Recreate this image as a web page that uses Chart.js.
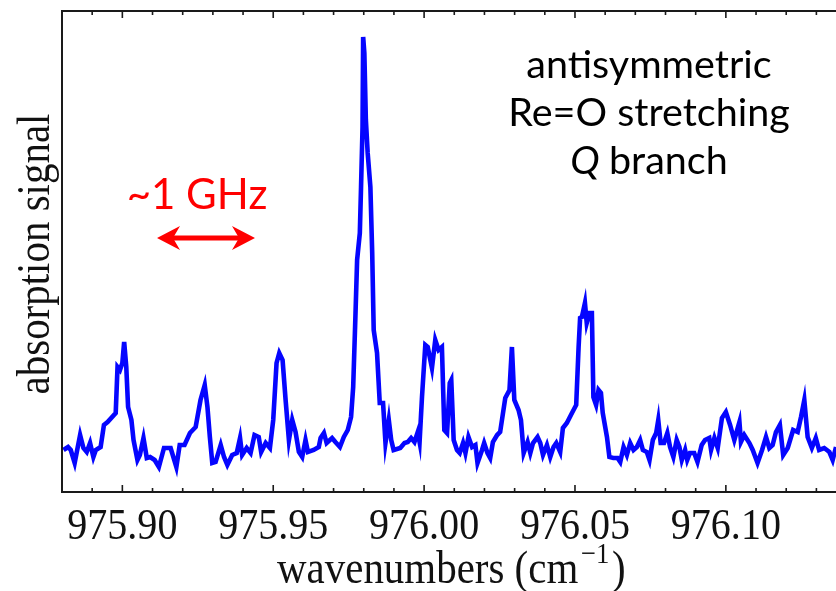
<!DOCTYPE html>
<html>
<head>
<meta charset="utf-8">
<script src="https://cdn.jsdelivr.net/npm/chart.js@4"></script>
<style>
  html, body { margin: 0; padding: 0; background: #ffffff; }
  #wrap { width: 836px; height: 591px; }
</style>
</head>
<body>
<div id="wrap"><canvas id="c" width="836" height="591"></canvas></div>
<script>
// wavenumber (cm^-1) of each sample
const wavenumber = [
  975.8805, 975.8820, 975.8829, 975.8842, 975.8860, 975.8871, 975.8882, 975.8893, 975.8904, 975.8912,
  975.8928, 975.8939, 975.8951, 975.8978, 975.8984, 975.8992, 975.9000, 975.9006, 975.9013, 975.9019,
  975.9030, 975.9037, 975.9050, 975.9058, 975.9070, 975.9081, 975.9092, 975.9107, 975.9121, 975.9138,
  975.9160, 975.9179, 975.9190, 975.9206, 975.9224,
  975.9243, 975.9259, 975.9273, 975.9282, 975.9290, 975.9298, 975.9309, 975.9326, 975.9337, 975.9348,
  975.9364, 975.9379, 975.9390, 975.9397, 975.9412, 975.9425, 975.9438, 975.9452, 975.9460, 975.9475,
  975.9489, 975.9500, 975.9511, 975.9520, 975.9531, 975.9541, 975.9552, 975.9563, 975.9574, 975.9585,
  975.9596, 975.9607, 975.9615, 975.9634, 975.9651,
  975.9657, 975.9668, 975.9677, 975.9695, 975.9706, 975.9721, 975.9734, 975.9747, 975.9758, 975.9765,
  975.9772, 975.9778, 975.9787, 975.9791, 975.9796, 975.9798, 975.9802, 975.9807, 975.9813, 975.9822,
  975.9828, 975.9833, 975.9844, 975.9853, 975.9864, 975.9872, 975.9883, 975.9891, 975.9899, 975.9921,
  975.9935, 975.9946, 975.9957, 975.9968, 975.9979, 975.9985, 975.9993, 976.0004, 976.0012, 976.0026,
  976.0037, 976.0048, 976.0059, 976.0067, 976.0076, 976.0085,
  976.0090, 976.0098, 976.0109, 976.0118, 976.0129, 976.0137, 976.0147, 976.0159, 976.0170, 976.0177,
  976.0192, 976.0199, 976.0210, 976.0219, 976.0228, 976.0242, 976.0252, 976.0269, 976.0283, 976.0291,
  976.0299, 976.0313, 976.0321, 976.0330, 976.0343, 976.0352, 976.0361, 976.0376, 976.0385, 976.0394,
  976.0407, 976.0418, 976.0429, 976.0438, 976.0451, 976.0460, 976.0473, 976.0490, 976.0504, 976.0512,
  976.0517,
  976.0523, 976.0533, 976.0539, 976.0548, 976.0556, 976.0561, 976.0570, 976.0578, 976.0586, 976.0592,
  976.0606, 976.0614, 976.0627, 976.0641, 976.0650, 976.0661, 976.0672, 976.0683, 976.0694, 976.0705,
  976.0716, 976.0725, 976.0738, 976.0747, 976.0758, 976.0769, 976.0776, 976.0784, 976.0795, 976.0806,
  976.0815, 976.0826, 976.0837, 976.0846, 976.0854, 976.0865, 976.0872, 976.0881, 976.0895, 976.0906,
  976.0920, 976.0931,
  976.0945, 976.0951, 976.0962, 976.0973, 976.0987, 976.1000, 976.1014, 976.1028, 976.1045, 976.1050,
  976.1061, 976.1078, 976.1089, 976.1105, 976.1120, 976.1133, 976.1144, 976.1155, 976.1166, 976.1179,
  976.1190, 976.1205, 976.1223, 976.1238, 976.1249, 976.1260, 976.1271, 976.1285, 976.1298, 976.1309,
  976.1326, 976.1343, 976.1354, 976.1365
];

// absorption signal (arbitrary units)
const signal = [
  42, 45, 42, 29, 57, 44, 40, 49, 35, 42,
  45, 67, 70, 79, 125, 122, 129, 150, 125, 85,
  72, 52, 32, 37, 54, 34, 35, 32, 25, 44,
  44, 25, 47, 47, 59,
  65, 92, 107, 85, 55, 29, 30, 47, 35, 27,
  37, 39, 54, 37, 44, 39, 57, 55, 40, 49,
  44, 72, 129, 139, 132, 92, 52, 72, 60, 40,
  35, 52, 40, 42, 45,
  54, 59, 49, 54, 50, 45, 55, 62, 75, 105,
  172, 232, 259, 305, 365, 455, 439, 372, 339, 305,
  239, 162, 139, 89, 89, 49, 72, 52, 42, 44,
  49, 50, 54, 50, 60, 50, 95, 147, 145, 124,
  152, 142, 145, 62, 59, 109,
  112, 52, 42, 39, 49, 39, 55, 45, 47, 29,
  42, 49, 39, 34, 50, 57, 60, 94, 102, 145,
  92, 82, 72, 39, 50, 39, 49, 55, 49, 37,
  47, 35, 45, 49, 40, 64, 69, 79, 87, 145,
  174,
  175, 189, 169, 179, 179, 95, 87, 102, 99, 79,
  55, 35, 34, 34, 30, 45, 37, 49, 42, 45,
  52, 42, 40, 32, 52, 59, 72, 49, 49, 59,
  45, 35, 52, 45, 32, 42, 32, 39, 39, 30,
  47, 52,
  54, 42, 54, 44, 74, 80, 67, 52, 70, 50,
  57, 49, 42, 29, 42, 55, 44, 47, 60, 67,
  37, 44, 62, 60, 75, 92, 55, 44, 54, 42,
  44, 40, 32, 45
];

const xMin = 975.88, xMax = 976.1365;
const yMin = 0, yMax = 481;
const xTickValues = [975.90, 975.95, 976.00, 976.05, 976.10];
const xTickLabels = ['975.90', '975.95', '976.00', '976.05', '976.10'];
const xMinorStep = 0.01;
const xTitle = 'wavenumbers (cm';
const xTitleSup = '\u22121';
const yTitle = 'absorption signal';
const noteLines = ['antisymmetric', 'Re=O stretching', 'branch'];
const noteItalic = 'Q';
const widthNote = '~1 GHz';

const SERIF = '"Liberation Serif", "DejaVu Serif", serif';
const SANS = 'Lato, "Open Sans", sans-serif';

function squeezeText(ctx, text, x, y, sx, align) {
  ctx.save();
  ctx.translate(x, y);
  ctx.scale(sx, 1);
  ctx.textAlign = align;
  ctx.fillText(text, 0, 0);
  ctx.restore();
}

const framePlugin = {
  id: 'frame',
  afterDatasetsDraw(chart) {
    const ctx = chart.ctx;
    const xs = chart.scales.x;
    const a = chart.chartArea;
    ctx.save();
    // frame
    ctx.strokeStyle = '#1a1a1a';
    ctx.lineWidth = 2;
    ctx.beginPath();
    ctx.moveTo(a.right + 2, a.top);
    ctx.lineTo(a.left, a.top);
    ctx.lineTo(a.left, a.bottom);
    ctx.lineTo(a.right + 2, a.bottom);
    ctx.stroke();
    // ticks (inward, bottom and top)
    ctx.lineWidth = 1.6;
    const n = Math.round((xMax - xMin) / xMinorStep);
    for (let i = 1; i <= n; i++) {
      const v = xMin + i * xMinorStep;
      const px = xs.getPixelForValue(v);
      const major = xTickValues.some(t => Math.abs(t - v) < 1e-6);
      const len = major ? 7 : 4;
      ctx.beginPath();
      ctx.moveTo(px, a.bottom);
      ctx.lineTo(px, a.bottom - len);
      ctx.moveTo(px, a.top);
      ctx.lineTo(px, a.top + len);
      ctx.stroke();
    }
    // tick labels
    ctx.fillStyle = '#111';
    ctx.font = '45px ' + SERIF;
    ctx.textBaseline = 'alphabetic';
    xTickValues.forEach((v, i) => {
      squeezeText(ctx, xTickLabels[i], xs.getPixelForValue(v), 539, 0.89, 'center');
    });
    // x title
    ctx.font = '46px ' + SERIF;
    ctx.save();
    ctx.translate(277, 583);
    ctx.scale(0.89, 1);
    ctx.textAlign = 'left';
    ctx.fillText(xTitle, 0, 0);
    const w1 = ctx.measureText(xTitle).width;
    ctx.font = '30px ' + SERIF;
    ctx.fillText(xTitleSup, w1 + 3, -20);
    const w2 = ctx.measureText(xTitleSup).width;
    ctx.font = '46px ' + SERIF;
    ctx.fillText(')', w1 + w2 + 6, 0);
    ctx.restore();
    // y title
    ctx.save();
    ctx.translate(49, 254);
    ctx.rotate(-Math.PI / 2);
    ctx.scale(0.89, 1);
    ctx.textAlign = 'center';
    ctx.font = '46px ' + SERIF;
    ctx.fillText(yTitle, 0, 0);
    ctx.restore();
    // annotation
    const fs = 39.5;
    ctx.fillStyle = '#000';
    ctx.textAlign = 'center';
    ctx.font = fs + 'px ' + SANS;
    ctx.fillText(noteLines[0], 649, 78);
    ctx.fillText(noteLines[1], 649, 126);
    ctx.font = 'italic ' + fs + 'px ' + SANS;
    const qW = ctx.measureText(noteItalic + ' ').width;
    ctx.font = fs + 'px ' + SANS;
    const bW = ctx.measureText(noteLines[2]).width;
    const startX = 649 - (qW + bW) / 2;
    ctx.textAlign = 'left';
    ctx.font = 'italic ' + fs + 'px ' + SANS;
    ctx.fillText(noteItalic, startX, 174);
    ctx.font = fs + 'px ' + SANS;
    ctx.fillText(noteLines[2], startX + qW, 174);
    // ~1 GHz
    ctx.fillStyle = '#ff0000';
    ctx.textAlign = 'center';
    ctx.font = '42px ' + SANS;
    ctx.fillText(widthNote, 197, 209);
    // double arrow
    const ax1 = 157, ax2 = 255, ay = 238;
    ctx.strokeStyle = '#ff0000';
    ctx.lineWidth = 5;
    ctx.beginPath();
    ctx.moveTo(ax1 + 12, ay);
    ctx.lineTo(ax2 - 12, ay);
    ctx.stroke();
    ctx.beginPath();
    ctx.moveTo(ax1, ay);
    ctx.lineTo(ax1 + 23, ay - 12);
    ctx.lineTo(ax1 + 16, ay);
    ctx.lineTo(ax1 + 23, ay + 12);
    ctx.closePath();
    ctx.moveTo(ax2, ay);
    ctx.lineTo(ax2 - 23, ay - 12);
    ctx.lineTo(ax2 - 16, ay);
    ctx.lineTo(ax2 - 23, ay + 12);
    ctx.closePath();
    ctx.fillStyle = '#ff0000';
    ctx.fill();
    ctx.restore();
  }
};

new Chart(document.getElementById('c'), {
  type: 'line',
  data: {
    datasets: [{
      data: wavenumber.map((x, i) => ({ x: x, y: signal[i] })),
      borderColor: '#0505ff',
      borderWidth: 4.6,
      pointRadius: 0,
      tension: 0,
      fill: false
    }]
  },
  options: {
    responsive: false,
    devicePixelRatio: 1,
    animation: false,
    layout: { padding: { left: 62, top: 11, right: 0, bottom: 99 } },
    plugins: { legend: { display: false }, tooltip: { enabled: false } },
    scales: {
      x: { type: 'linear', min: xMin, max: xMax, display: false },
      y: { type: 'linear', min: yMin, max: yMax, display: false }
    }
  },
  plugins: [framePlugin]
});
</script>
</body>
</html>
